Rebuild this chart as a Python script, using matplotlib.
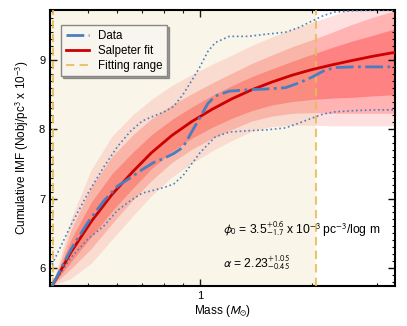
import numpy as np
import matplotlib
matplotlib.use("Agg")
import matplotlib.pyplot as plt
from matplotlib.ticker import MultipleLocator, NullFormatter

plt.rcParams['font.family'] = ['Liberation Sans', 'DejaVu Sans']
plt.rcParams['mathtext.fontset'] = 'stixsans'

# measured cumulative IMF (data) and its envelope
m_data = [0.40, 0.45, 0.50, 0.55, 0.60, 0.65, 0.70, 0.75, 0.80, 0.85, 0.90, 0.95, 1.00,
          1.05, 1.10, 1.20, 1.35, 1.50, 1.70, 1.85, 2.00, 2.15, 2.30, 2.60, 3.00, 3.35]
data = [5.74, 6.27, 6.66, 6.96, 7.18, 7.30, 7.42, 7.52, 7.58, 7.65, 7.74, 7.96, 8.17,
        8.37, 8.48, 8.55, 8.57, 8.58, 8.60, 8.67, 8.75, 8.84, 8.89, 8.90, 8.90, 8.90]
data_hi = [6.05, 6.62, 7.08, 7.45, 7.75, 7.97, 8.12, 8.19, 8.25, 8.33, 8.50, 8.70, 8.90,
           9.12, 9.25, 9.34, 9.34, 9.37, 9.40, 9.47, 9.56, 9.64, 9.69, 9.71, 9.72, 9.72]
data_lo = [5.74, 6.15, 6.42, 6.60, 6.83, 6.97, 7.08, 7.12, 7.16, 7.21, 7.33, 7.50, 7.66,
           7.78, 7.89, 7.96, 7.98, 7.99, 8.02, 8.09, 8.16, 8.22, 8.25, 8.27, 8.28, 8.28]

# Salpeter fit and its confidence bands
m_fit = [0.40, 0.45, 0.51, 0.58, 0.66, 0.74, 0.84, 0.95, 1.08, 1.22, 1.38, 1.56, 1.77,
         2.00, 2.27, 2.56, 2.90, 3.35]
fit = [5.74, 6.23, 6.67, 7.06, 7.39, 7.66, 7.91, 8.11, 8.29, 8.44, 8.57, 8.68, 8.78,
       8.86, 8.93, 8.99, 9.05, 9.11]
light_hi = [5.74, 6.71, 7.42, 7.90, 8.21, 8.43, 8.63, 8.79, 8.94, 9.07, 9.21, 9.33, 9.44,
            9.54, 9.64, 9.74, 9.83, 9.93]
mid_hi = [5.74, 6.55, 7.17, 7.61, 7.92, 8.15, 8.35, 8.51, 8.67, 8.81, 8.95, 9.07, 9.19,
          9.29, 9.40, 9.51, 9.61, 9.71]
dark_hi = [5.74, 6.41, 6.95, 7.36, 7.67, 7.92, 8.14, 8.32, 8.49, 8.63, 8.76, 8.87, 8.98,
           9.08, 9.18, 9.27, 9.35, 9.45]
dark_lo = [5.74, 6.09, 6.45, 6.82, 7.15, 7.43, 7.68, 7.87, 8.03, 8.16, 8.27, 8.35, 8.40,
           8.43, 8.45, 8.46, 8.48, 8.50]
mid_lo = [5.74, 5.99, 6.28, 6.64, 6.98, 7.26, 7.52, 7.71, 7.87, 8.00, 8.12, 8.19, 8.23,
          8.24, 8.23, 8.23, 8.23, 8.23]
light_lo = [5.74, 5.85, 6.07, 6.41, 6.75, 7.04, 7.31, 7.51, 7.69, 7.84, 7.97, 8.04, 8.06,
            8.06, 8.05, 8.05, 8.05, 8.05]

fit_range = [0.403, 2.05]

fig = plt.figure(figsize=(4.07, 3.26), dpi=100)
ax = fig.add_axes([0.1229, 0.1227, 0.8476, 0.8466])

ax.fill_between(m_fit, light_lo, light_hi, color='#ffe0e0', lw=0, zorder=1)
ax.fill_between(m_fit, mid_lo, mid_hi, color='#ffb3b3', lw=0, zorder=1)
ax.fill_between(m_fit, dark_lo, dark_hi, color='#ff8282', lw=0, zorder=1)
ax.axvspan(0.3, fit_range[1], color=(215/255, 195/255, 110/255), alpha=0.15, lw=0, zorder=2)

ax.plot(m_data, data_hi, ':', color='#4a7fbf', lw=1.2, zorder=4)
ax.plot(m_data, data_lo, ':', color='#4a7fbf', lw=1.2, zorder=4)
ax.plot(m_fit, fit, '-', color='#cc0000', lw=2, zorder=5, label='Salpeter fit')
ax.plot(m_data, data, '-.', color='#4a7fbf', lw=2, zorder=6, label='Data')
for xr in fit_range:
    ax.axvline(xr, color='#e6bd55', lw=1.5, ls=(0, (4, 2.5)), alpha=0.85, zorder=3,
               label='Fitting range' if xr == fit_range[0] else None)

ax.set_xscale('log')
ax.set_xlim(0.395, 3.35)
ax.set_ylim(5.74, 9.72)
ax.set_xticks([1])
ax.set_xticklabels(['1'])
ax.set_xticks([0.4, 0.5, 0.6, 0.7, 0.8, 0.9, 2, 3], minor=True)
ax.xaxis.set_minor_formatter(NullFormatter())
ax.yaxis.set_major_locator(MultipleLocator(1))
ax.yaxis.set_minor_locator(MultipleLocator(0.1))
ax.tick_params(which='both', direction='in', top=True, right=True, labelsize=8)
ax.tick_params(which='major', length=5, width=1)
ax.tick_params(which='minor', length=2.5, width=0.8)
for s in ax.spines.values():
    s.set_linewidth(1.5)

ax.set_xlabel(r'Mass ($M_{\odot}$)', fontsize=8.5, labelpad=1.5)
ax.set_ylabel(r'Cumulative IMF (Nobj/pc$^3$ x 10$^{-3}$)', fontsize=8.5, labelpad=6)

ax.text(1.153, 6.49, r'$\phi_0$ = 3.5$^{+0.6}_{-1.7}$ x 10$^{-3}$ pc$^{-3}$/log m',
        fontsize=8.7, va='baseline', zorder=7)
ax.text(1.153, 6.00, r'$\alpha$ = 2.23$^{+1.05}_{-0.45}$', fontsize=8.7, va='baseline', zorder=7)

handles, labels = ax.get_legend_handles_labels()
order = [labels.index('Data'), labels.index('Salpeter fit'), labels.index('Fitting range')]
leg = ax.legend([handles[i] for i in order], [labels[i] for i in order],
                loc='upper left', bbox_to_anchor=(0.015, 0.965), fontsize=8.3,
                fancybox=False, shadow={'ox': 1.2, 'oy': -1.2}, framealpha=1,
                facecolor='#f7f5ee', edgecolor='#888888', handlelength=2.0,
                borderpad=0.4, labelspacing=0.25)
leg.set_zorder(10)

fig.savefig('out.png', dpi=100)
